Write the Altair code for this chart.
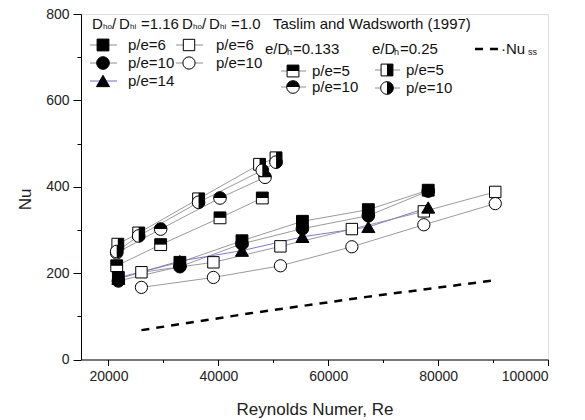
import altair as alt
import pandas as pd

# ---------------- data ----------------
re_116 = [21800, 33000, 44300, 55300, 67300, 78200]
nu_116_pe6 = [190, 225, 275, 320, 347, 392]
nu_116_pe10 = [182, 215, 268, 303, 333, 390]
nu_116_pe14 = [187, 228, 252, 284, 307, 352]

re_10 = [26000, 39100, 51300, 64300, 77400, 90400]
nu_10_pe6 = [202, 225, 262, 302, 343, 388]
nu_10_pe10 = [167, 190, 217, 261, 312, 361]

re_t133_pe5 = [21500, 29500, 40300, 48000]
nu_t133_pe5 = [217, 266, 328, 374]
re_t133_pe10 = [21500, 29500, 40300, 48500]
nu_t133_pe10 = [247, 302, 374, 422]
re_t25_pe5 = [21700, 25500, 36400, 47500, 50500]
nu_t25_pe5 = [267, 293, 372, 452, 467]
re_t25_pe10 = [21500, 25500, 36400, 48000, 50500]
nu_t25_pe10 = [250, 286, 364, 438, 457]

re_nuss = [26000, 45800, 67000, 90000]
nu_nuss = [68, 107, 145, 183]

x_ticks = [20000, 30000, 40000, 50000, 60000, 70000, 80000, 90000, 100000]
y_ticks = [0, 100, 200, 300, 400, 500, 600, 700, 800]

series = [
    ("116_pe6", re_116, nu_116_pe6),
    ("116_pe10", re_116, nu_116_pe10),
    ("116_pe14", re_116, nu_116_pe14),
    ("10_pe6", re_10, nu_10_pe6),
    ("10_pe10", re_10, nu_10_pe10),
    ("t133_pe5", re_t133_pe5, nu_t133_pe5),
    ("t133_pe10", re_t133_pe10, nu_t133_pe10),
    ("t25_pe5", re_t25_pe5, nu_t25_pe5),
    ("t25_pe10", re_t25_pe10, nu_t25_pe10),
]
rows = []
for name, xs_, ys_ in series:
    for a, b in zip(xs_, ys_):
        rows.append({"series": name, "Re": a, "Nu": b})
df = pd.DataFrame(rows)
df_ss = pd.DataFrame({"Re": re_nuss, "Nu": nu_nuss})

# ---------------- styling ----------------
FONT = "Liberation Sans"
GRAY = "#8f8f8f"
BLUE = "#6a6ad8"
names = [s[0] for s in series]
line_cols = [GRAY, GRAY, BLUE, GRAY, GRAY, GRAY, GRAY, GRAY, GRAY]

# half-shape custom paths
TOP_SQ = "M-1,-1L1,-1L1,0L-1,0Z"
RIGHT_SQ = "M0,-1L1,-1L1,1L0,1Z"
TOP_CI = "M-1,0A1,1,0,0,1,1,0Z"
RIGHT_CI = "M0,-1A1,1,0,0,1,0,1Z"

style = {
    "116_pe6": ("square", "black", None, 140),
    "116_pe10": ("circle", "black", None, 160),
    "116_pe14": ("triangle-up", "black", None, 170),
    "10_pe6": ("square", "white", None, 130),
    "10_pe10": ("circle", "white", None, 150),
    "t133_pe5": ("square", "white", TOP_SQ, 140),
    "t133_pe10": ("circle", "white", TOP_CI, 160),
    "t25_pe5": ("square", "white", RIGHT_SQ, 140),
    "t25_pe10": ("circle", "white", RIGHT_CI, 160),
}

xs = alt.Scale(domain=[15000, 100000], nice=False, zero=False)
ys = alt.Scale(domain=[0, 800], nice=False)

x_axis = alt.Axis(
    values=x_ticks, format="d", grid=False,
    labelExpr="datum.value % 20000 === 0 ? format(datum.value, 'd') : ''",
    tickSize=alt.condition("datum.value % 20000 === 0", alt.value(6), alt.value(3)),
    labelFontSize=14, labelFont=FONT, labelColor="#222", labelPadding=4,
    title="Reynolds Numer, Re", titleFont=FONT, titleFontSize=17, titleFontWeight="normal",
    titleColor="#222", titleY=55, titleBaseline="alphabetic",
    domainColor="black", tickColor="black",
)
y_axis = alt.Axis(
    values=y_ticks, grid=False,
    labelExpr="datum.value % 200 === 0 ? format(datum.value, 'd') : ''",
    tickSize=alt.condition("datum.value % 200 === 0", alt.value(8), alt.value(4)),
    labelFontSize=14, labelFont=FONT, labelColor="#222", labelPadding=4,
    title="Nu", titleFont=FONT, titleFontSize=17, titleFontWeight="normal",
    titleColor="#222", titleX=-56, titleY=185, titleAngle=270,
    titleAlign="center", titleBaseline="middle",
    domainColor="black", tickColor="black",
)

base = alt.Chart(df)
X = alt.X("Re:Q", scale=xs, axis=x_axis)
Y = alt.Y("Nu:Q", scale=ys, axis=y_axis)

lines = base.mark_line(strokeWidth=0.9).encode(
    x=X, y=Y, detail="series:N",
    color=alt.Color("series:N", scale=alt.Scale(domain=names, range=line_cols), legend=None),
)

nuss = alt.Chart(df_ss).mark_line(color="black", strokeWidth=2.5, strokeDash=[8, 7]).encode(
    x=alt.X("Re:Q", scale=xs), y=alt.Y("Nu:Q", scale=ys)
)

layers = [lines, nuss]
order = ["t133_pe5", "t133_pe10", "t25_pe5", "t25_pe10", "10_pe6", "10_pe10",
         "116_pe14", "116_pe10", "116_pe6"]
for name in order:
    shp, fill, half, size = style[name]
    sub = base.transform_filter(alt.datum.series == name)
    layers.append(sub.mark_point(shape=shp, filled=True, fill=fill, stroke="black",
                                 strokeWidth=1, size=size, opacity=1).encode(
        x=alt.X("Re:Q", scale=xs), y=alt.Y("Nu:Q", scale=ys)))
    if half:
        layers.append(sub.mark_point(shape=half, filled=True, fill="black", strokeWidth=0,
                                     size=size, opacity=1).encode(
            x=alt.X("Re:Q", scale=xs), y=alt.Y("Nu:Q", scale=ys)))

# ---------------- manual legend (pixel positions in the plot area) ----------------
OX, OY = 81, 14
one = pd.DataFrame({"k": [0]})


def txt(s, x, y, size=15):
    return alt.Chart(one).mark_text(text=s, align="left", baseline="middle", font=FONT,
                                    fontSize=size, color="#111").encode(
        x=alt.value(x - OX), y=alt.value(y - OY))


def seg(x1, x2, y, color=GRAY, width=1.0, dash=None):
    kw = dict(color=color, strokeWidth=width)
    if dash:
        kw["strokeDash"] = dash
    return alt.Chart(one).mark_rule(**kw).encode(
        x=alt.value(x1 - OX), x2=alt.value(x2 - OX), y=alt.value(y - OY))


def sym(name, x, y):
    shp, fill, half, size = style[name]
    out = [alt.Chart(one).mark_point(shape=shp, filled=True, fill=fill, stroke="black",
                                     strokeWidth=1, size=size, opacity=1).encode(
        x=alt.value(x - OX), y=alt.value(y - OY))]
    if half:
        out.append(alt.Chart(one).mark_point(shape=half, filled=True, fill="black",
                                             strokeWidth=0, size=size, opacity=1).encode(
            x=alt.value(x - OX), y=alt.value(y - OY)))
    return out


leg = []
# header: Dho/ Dhi =1.16   Dho/ Dhi =1.0   Taslim and Wadsworth (1997)
hy = 24
for x0, val in [(92, "=1.16"), (182, "=1.0")]:
    leg += [txt("D", x0, hy, 15), txt("ho", x0 + 11, hy + 3, 8), txt("/", x0 + 20, hy, 15),
            txt("D", x0 + 27, hy, 15), txt("hi", x0 + 38, hy + 3, 8), txt(val, x0 + 49, hy, 15)]
leg.append(txt("Taslim and Wadsworth (1997)", 273, hy, 15))

# present study columns
for name, y, lab, col in [("116_pe6", 45, "p/e=6", GRAY),
                          ("116_pe10", 63, "p/e=10", GRAY),
                          ("116_pe14", 81, "p/e=14", BLUE)]:
    leg.append(seg(90, 117, y, col))
    leg += sym(name, 103, y)
    leg.append(txt(lab, 128, y))
for name, y, lab in [("10_pe6", 45, "p/e=6"), ("10_pe10", 63, "p/e=10")]:
    leg.append(seg(176, 203, y))
    leg += sym(name, 189, y)
    leg.append(txt(lab, 216, y))

# Taslim columns
leg.append(txt("e/D", 265, 49))
leg.append(txt("h", 287, 52, 9))
leg.append(txt("=0.133", 293, 49))
leg.append(txt("e/D", 372, 49))
leg.append(txt("h", 394, 52, 9))
leg.append(txt("=0.25", 400, 49))
for name, y, lab in [("t133_pe5", 71, "p/e=5"), ("t133_pe10", 87, "p/e=10")]:
    leg.append(seg(281, 306, y))
    leg += sym(name, 293, y)
    leg.append(txt(lab, 312, y))
for name, y, lab in [("t25_pe5", 70, "p/e=5"), ("t25_pe10", 88, "p/e=10")]:
    leg.append(seg(375, 400, y))
    leg += sym(name, 387, y)
    leg.append(txt(lab, 406, y))

# Nu_ss
leg.append(seg(475, 500, 49, color="black", width=2.5, dash=[8, 7]))
leg.append(txt("\u00b7Nu", 501, 49))
leg.append(txt("ss", 528, 52, 9))

chart = alt.layer(*layers, *leg).properties(
    width=467, height=345.5,
    padding={"left": 81, "top": 14, "right": 37, "bottom": 60.5},
    autosize=alt.AutoSizeParams(type="none"),
).configure_view(stroke="black", strokeWidth=1).configure(background="white")

chart.save("out.html", embed_options={"renderer": "svg", "actions": False})
